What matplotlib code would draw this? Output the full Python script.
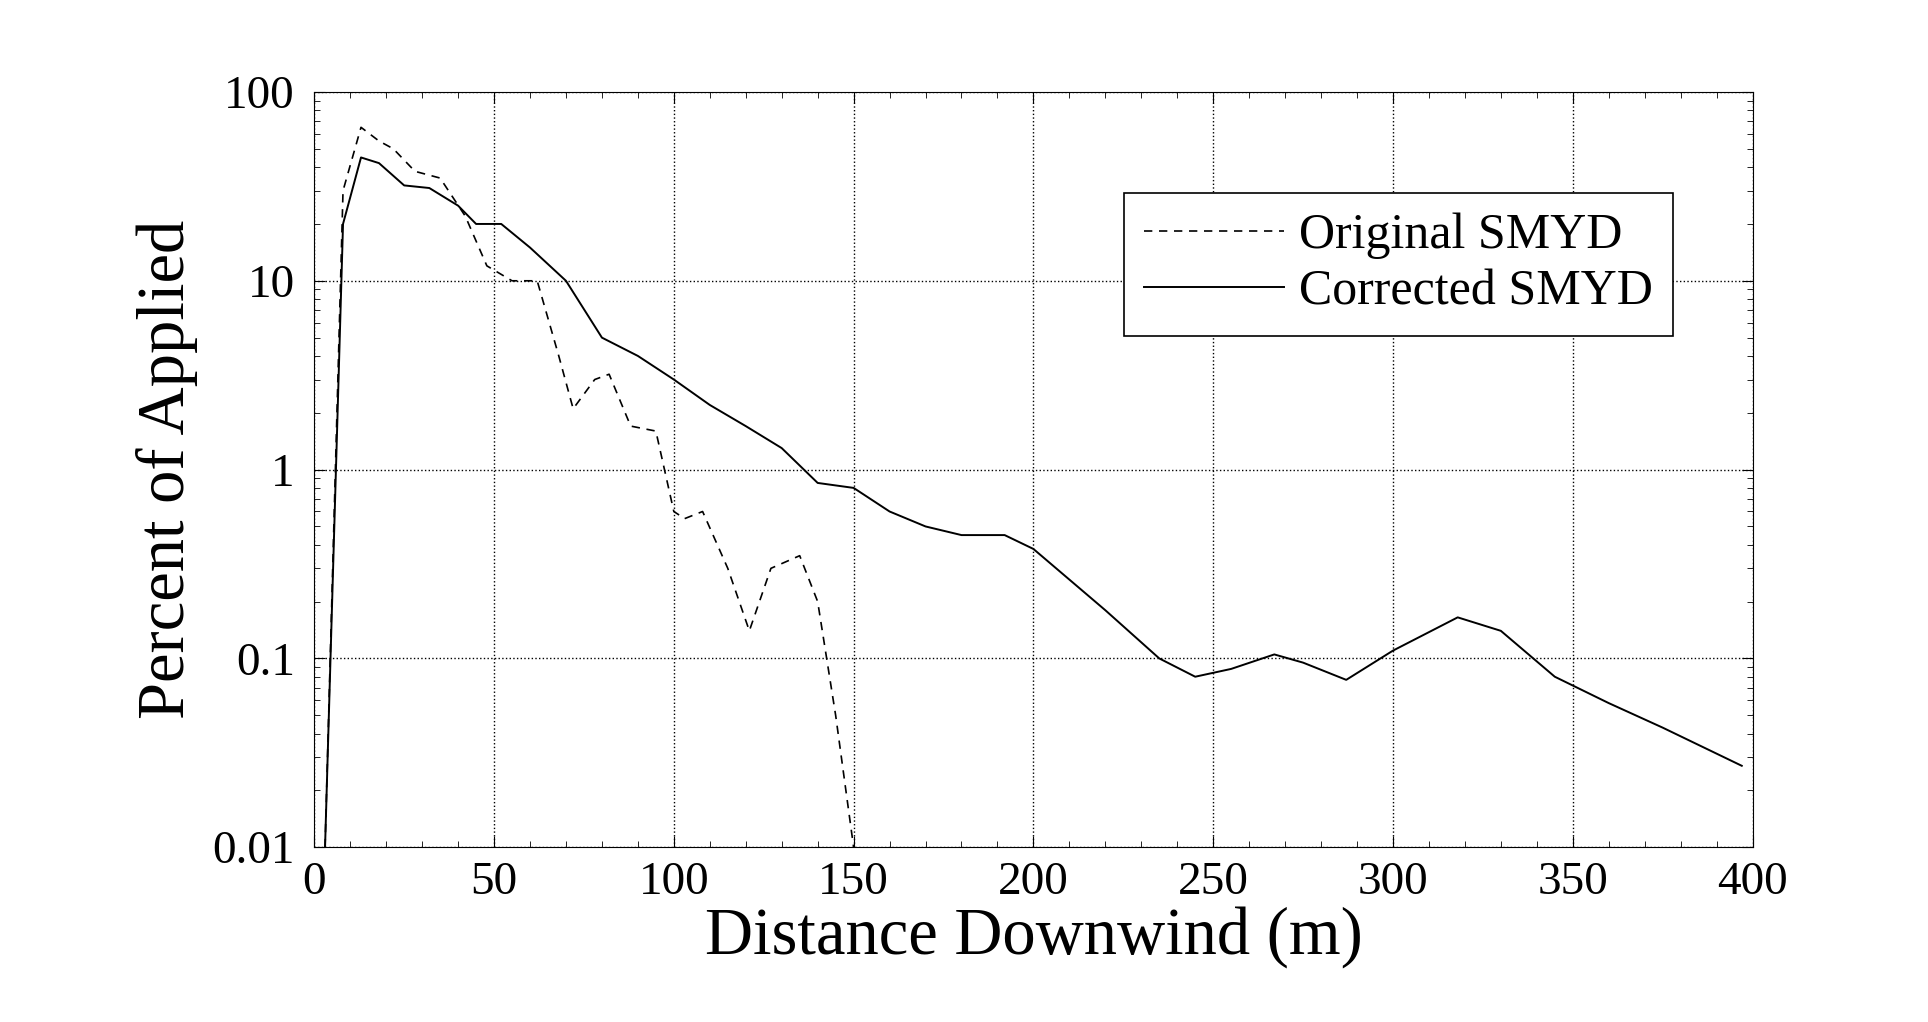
import matplotlib
matplotlib.use("Agg")
import matplotlib.pyplot as plt
from matplotlib.ticker import FixedLocator, LogLocator, NullFormatter, MultipleLocator

plt.rcParams['font.family'] = ['Liberation Serif', 'DejaVu Serif']

corr_x = [3, 8, 13, 18, 25, 32, 40, 45, 52, 60, 70, 80, 90, 100, 110, 120, 130, 140, 150, 160, 170, 180, 192, 200, 220, 235, 245, 255, 267, 275, 287, 300, 318, 330, 345, 360, 375, 397]
corr_y = [0.01, 20, 45, 42, 32, 31, 25, 20, 20, 15, 10, 5, 4, 3, 2.2, 1.7, 1.3, 0.85, 0.8, 0.6, 0.5, 0.45, 0.45, 0.38, 0.18, 0.1, 0.08, 0.088, 0.105, 0.095, 0.077, 0.11, 0.165, 0.14, 0.08, 0.058, 0.043, 0.027]
orig_x = [3, 8, 13, 18, 22, 28, 35, 42, 48, 55, 62, 68, 72, 78, 82, 88, 95, 100, 103, 108, 115, 121, 127, 135, 140, 145, 150]
orig_y = [0.01, 30, 65, 55, 50, 38, 35, 22, 12, 10, 10, 4, 2.1, 3, 3.2, 1.7, 1.6, 0.6, 0.55, 0.6, 0.3, 0.14, 0.3, 0.35, 0.2, 0.05, 0.01]

fig = plt.figure(figsize=(19.28, 10.22), dpi=100)
ax = fig.add_axes([0.163, 0.171, 0.746, 0.739])
ax.plot(orig_x, orig_y, 'k--', lw=1.2, dashes=(5, 4), label='Original SMYD')
ax.plot(corr_x, corr_y, 'k-', lw=1.4, label='Corrected SMYD')
ax.set_yscale('log')
ax.set_xlim(0, 400)
ax.set_ylim(0.01, 100)
ax.xaxis.set_major_locator(MultipleLocator(50))
ax.xaxis.set_minor_locator(MultipleLocator(10))
ax.yaxis.set_major_locator(FixedLocator([0.01, 0.1, 1, 10, 100]))
ax.set_yticklabels(['0.01', '0.1', '1', '10', '100'])
ax.yaxis.set_minor_locator(LogLocator(base=10, subs=range(2, 10)))
ax.yaxis.set_minor_formatter(NullFormatter())
ax.tick_params(which='both', direction='in', top=True, right=True, labelsize=34)
ax.tick_params(axis='y', pad=14)
ax.tick_params(axis='x', pad=10)
ax.tick_params(which='major', length=8)
ax.tick_params(which='minor', length=4)
ax.grid(True, which='major', linestyle=':', color='k', lw=1)
ax.set_xlabel('Distance Downwind (m)', fontsize=48, labelpad=2)
ax.set_ylabel('Percent of Applied', fontsize=48, labelpad=10)
leg = ax.legend(loc='upper right', bbox_to_anchor=(0.962, 0.9), fontsize=36, fancybox=False,
                edgecolor='k', framealpha=1, handlelength=2.8, handletextpad=0.3, borderpad=0.4,
                labelspacing=0.2)
leg.get_frame().set_linewidth(1.2)
fig.savefig('out.png', dpi=100)
